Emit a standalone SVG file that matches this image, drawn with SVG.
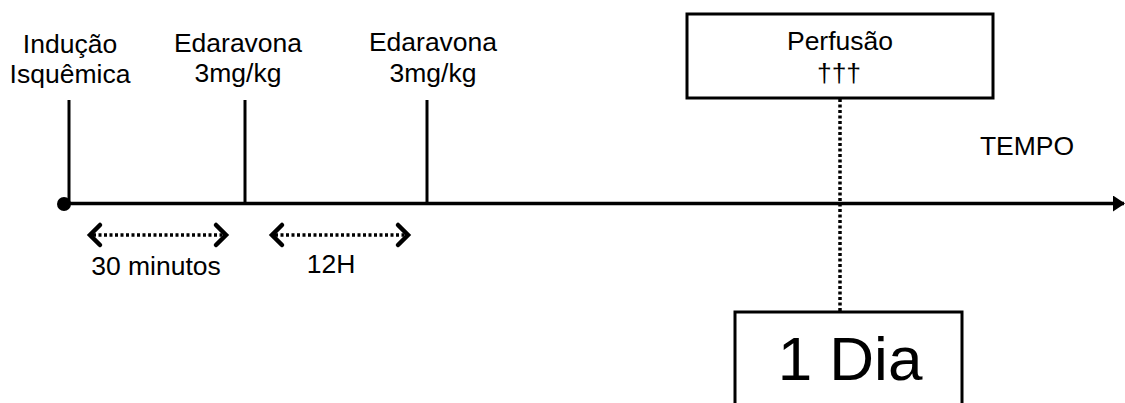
<svg xmlns="http://www.w3.org/2000/svg" width="1125" height="403" viewBox="0 0 1125 403">
  <defs>
    <style>
      text { font-family: "Liberation Sans", Arial, sans-serif; font-size: 26.5px; fill: #000; text-anchor: middle; }
      .big { font-size: 62px; }
      .tick { stroke: #000; stroke-width: 3; }
      .box { fill: #fff; stroke: #000; stroke-width: 3; }
      .dots { stroke: #000; stroke-width: 3.5; stroke-dasharray: 3 2.5; fill: none; }
      .chev { stroke: #000; stroke-width: 4.5; fill: none; stroke-linecap: round; stroke-linejoin: miter; }
    </style>
    <marker id="arrowhead" markerWidth="12" markerHeight="16" refX="11" refY="8" orient="auto" markerUnits="userSpaceOnUse">
      <path d="M0,0 L12,8 L0,16 Z" fill="#000"/>
    </marker>
  </defs>
  <rect width="1125" height="403" fill="#fff"/>

  <g id="connectors">
    <line x1="64" y1="203.5" x2="1124" y2="203.5" stroke="#000" stroke-width="3.5" marker-end="url(#arrowhead)"/>
    <circle cx="64" cy="204" r="7" fill="#000"/>
    <line class="tick" x1="69" y1="100" x2="69" y2="203"/>
    <line class="tick" x1="245" y1="100" x2="245" y2="203"/>
    <line class="tick" x1="427" y1="100" x2="427" y2="203"/>
    <line class="dots" x1="840" y1="99" x2="840" y2="311"/>
    <g id="arrow-30min">
      <line class="dots" x1="93" y1="235" x2="223" y2="235"/>
      <polyline class="chev" points="100,225 90,235 100,245"/>
      <polyline class="chev" points="216,225 226,235 216,245"/>
    </g>
    <g id="arrow-12h">
      <line class="dots" x1="275" y1="235" x2="405" y2="235"/>
      <polyline class="chev" points="282,225 272,235 282,245"/>
      <polyline class="chev" points="398,225 408,235 398,245"/>
    </g>
  </g>

  <g id="inducao">
    <text x="70" y="53">Indução</text>
    <text x="70" y="83">Isquêmica</text>
  </g>
  <g id="edaravona1">
    <text x="238" y="52">Edaravona</text>
    <text x="238" y="82">3mg/kg</text>
  </g>
  <g id="edaravona2">
    <text x="433" y="51">Edaravona</text>
    <text x="433" y="82">3mg/kg</text>
  </g>
  <g id="perfusao">
    <rect class="box" x="687" y="14" width="306" height="84"/>
    <text x="840" y="50">Perfusão</text>
    <text x="839" y="82">†††</text>
  </g>
  <g id="tempo">
    <text x="1027" y="155">TEMPO</text>
  </g>
  <g id="label-30min">
    <text x="156" y="275">30 minutos</text>
  </g>
  <g id="label-12h">
    <text x="331" y="273">12H</text>
  </g>
  <g id="dia">
    <rect class="box" x="735" y="312" width="227" height="110"/>
    <text class="big" x="850" y="380">1 Dia</text>
  </g>
</svg>
